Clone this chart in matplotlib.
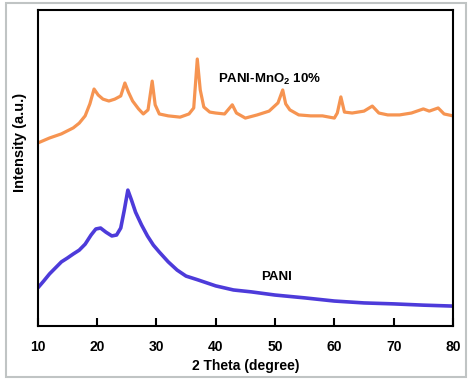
import matplotlib.pyplot as plt
from matplotlib.patches import Rectangle

plt.rcParams['font.family'] = ['Liberation Sans', 'DejaVu Sans']
plt.rcParams['font.weight'] = 'bold'
plt.rcParams['mathtext.fontset'] = 'custom'
plt.rcParams['mathtext.bf'] = 'Liberation Sans:bold'

# PANI-MnO2 10% trace (2 theta, arbitrary intensity)
x_mno2 = [10, 12, 14, 16, 17, 18, 18.8, 19.5, 20.2, 21, 22, 23, 24, 24.7, 25.3,
          26, 27, 27.8, 28.6, 29.3, 29.8, 30.5, 32, 34, 35.5, 36.3, 36.9, 37.4,
          38, 39, 40, 41.5, 42.8, 43.5, 45, 47, 49, 50.5, 51.3, 51.8, 52.5, 54,
          56, 58, 60, 60.5, 61.1, 61.7, 63, 65, 66.4, 67.5, 69, 71, 73, 75, 76,
          77.5, 78.5, 80]
y_mno2 = [57.9, 59.5, 60.8, 62.7, 64.2, 66.5, 70.3, 75.0, 73.1, 71.8, 71.2, 71.8,
          72.8, 76.9, 74.0, 71.2, 68.7, 67.1, 68.4, 77.5, 70.0, 67.1, 66.5, 66.1,
          67.1, 69.0, 84.5, 74.7, 69.3, 67.7, 67.4, 67.1, 70.0, 67.4, 65.8, 66.8,
          68.0, 70.6, 74.7, 70.3, 68.4, 66.8, 66.5, 66.5, 65.8, 67.4, 72.5, 67.7,
          67.4, 68.0, 69.6, 67.4, 66.8, 66.8, 67.4, 68.7, 68.0, 69.0, 67.1, 66.5]

# PANI trace
x_pani = [10, 11, 12, 13, 14, 15, 16, 17, 18, 19, 19.8, 20.6, 21.5, 22.5, 23.3,
          24, 24.6, 25.2, 25.8, 26.5, 27.5, 28.5, 29.5, 30.5, 32, 33.5, 35, 37,
          40, 43, 46, 50, 55, 60, 65, 70, 75, 80]
y_pani = [12.0, 14.2, 16.5, 18.4, 20.3, 21.5, 22.8, 24.0, 25.9, 28.8, 30.7, 31.0,
          29.7, 28.5, 28.8, 31.0, 36.7, 43.0, 39.9, 36.0, 32.0, 28.5, 25.6, 23.4,
          20.3, 17.7, 15.8, 14.6, 12.7, 11.4, 10.8, 9.8, 8.9, 7.9, 7.3, 7.0, 6.6,
          6.3]

fig = plt.figure(figsize=(4.74, 3.82), dpi=100)
fig.patches.append(Rectangle((6/474, 5/382), 460/474, 374/382, transform=fig.transFigure,
                             fill=False, edgecolor='#c0c4c4', lw=1.5))

ax = fig.add_axes([0.0795, 0.1466, 0.8762, 0.8272])
ax.plot(x_mno2, y_mno2, color='#f5883e', lw=2.3, alpha=0.9)
ax.plot(x_pani, y_pani, color='#3a26d6', lw=2.6, alpha=0.9)

ax.set_xlim(10, 80)
ax.set_ylim(0, 100)
ax.set_xticks(range(10, 81, 10))
ax.set_yticks([])
ax.tick_params(axis='x', direction='in', length=6, width=1.5, pad=10, labelsize=10)
for lab in ax.get_xticklabels():
    lab.set_fontweight('bold')
for s in ax.spines.values():
    s.set_linewidth(1.5)

ax.set_xlabel('2 Theta (degree)', fontsize=10, fontweight='bold', labelpad=4)
ax.set_ylabel('Intensity (a.u.)', fontsize=10.5, fontweight='bold')
ax.yaxis.set_label_coords(-0.025, 0.58)

ax.text(49, 78, r'PANI-MnO$_\mathbf{2}$ 10%', fontsize=9.5, fontweight='bold', ha='center', va='center')
ax.text(50.2, 15.5, 'PANI', fontsize=9.5, fontweight='bold', ha='center', va='center')

fig.savefig('out.png', dpi=100)
